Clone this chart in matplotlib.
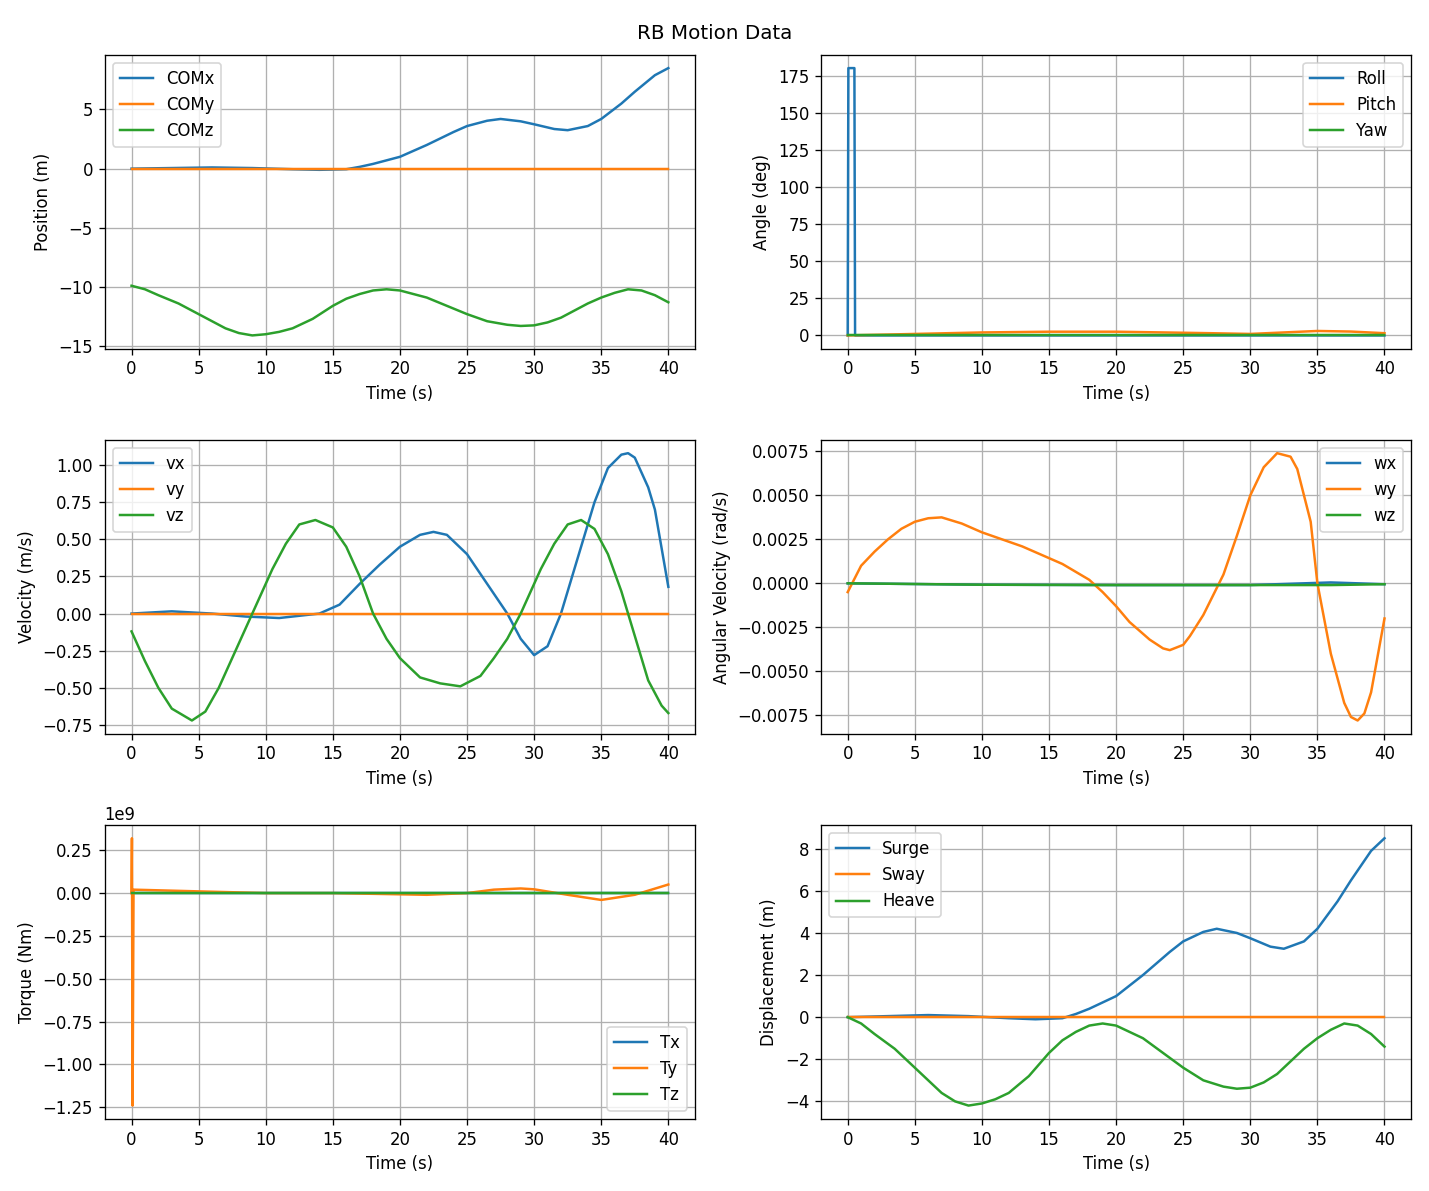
import numpy as np
import matplotlib
matplotlib.use("Agg")
import matplotlib.pyplot as plt

# Position (m)
t_pos = [0, 3, 6, 9, 12, 14, 16, 17, 18, 20, 22, 24, 25, 26.5, 27.5, 29, 30, 31.5, 32.5, 34, 35, 36.5, 37.5, 39, 40]
com_x = [0, 0.05, 0.1, 0.05, -0.05, -0.1, -0.05, 0.15, 0.4, 1.0, 2.0, 3.1, 3.6, 4.05, 4.2, 4.0, 3.75, 3.35, 3.25, 3.6, 4.2, 5.5, 6.5, 7.9, 8.5]
t_z = [0, 1, 2, 3.5, 5, 6, 7, 8, 9, 10, 11, 12, 13.5, 15, 16, 17, 18, 19, 20, 21, 22, 23.5, 25, 26.5, 28, 29, 30, 31, 32, 33, 34, 35, 36, 37, 38, 39, 40]
com_z = [-9.9, -10.2, -10.7, -11.4, -12.3, -12.9, -13.5, -13.9, -14.1, -14.0, -13.8, -13.5, -12.7, -11.6, -11.0, -10.6, -10.3, -10.2, -10.3, -10.6, -10.9, -11.6, -12.3, -12.9, -13.2, -13.3, -13.25, -13.0, -12.6, -12.0, -11.4, -10.9, -10.5, -10.2, -10.3, -10.7, -11.3]
surge = com_x
heave = [z + 9.9 for z in com_z]

# Angles (deg)
t_roll = [0, 0.05, 0.5, 0.55, 40]
roll = [0, 180, 180, 0, 0]
t_pitch = [0, 5, 10, 15, 20, 25, 27, 30, 32.5, 35, 37.5, 40]
pitch = [0, 1.0, 2.0, 2.5, 2.5, 1.8, 1.5, 1.0, 2.0, 3.0, 2.6, 1.5]

# Linear velocity (m/s)
t_vx = [0, 3, 6, 8.5, 11, 13, 14, 15.5, 17, 18.5, 20, 21.5, 22.5, 23.5, 25, 26.5, 28, 29, 30, 31, 32, 33, 34.5, 35.5, 36.5, 37, 37.5, 38.5, 39, 40]
vx = [0, 0.015, 0.0, -0.02, -0.03, -0.01, 0.0, 0.06, 0.2, 0.33, 0.45, 0.53, 0.55, 0.53, 0.4, 0.2, 0.0, -0.17, -0.28, -0.22, 0.0, 0.3, 0.75, 0.98, 1.07, 1.08, 1.05, 0.85, 0.7, 0.18]
t_vz = [0, 1, 2, 3, 4.5, 5.5, 6.5, 7.5, 9, 10, 10.5, 11.5, 12.5, 13.7, 15, 16, 17, 18, 19, 20, 21.5, 23, 24.5, 26, 27, 28, 29, 30.5, 31.5, 32.5, 33.5, 34.5, 35.5, 36.5, 37, 38, 38.5, 39.5, 40]
vz = [-0.12, -0.32, -0.5, -0.64, -0.72, -0.66, -0.5, -0.3, 0.0, 0.2, 0.3, 0.47, 0.6, 0.63, 0.58, 0.45, 0.25, 0.0, -0.17, -0.3, -0.43, -0.47, -0.49, -0.42, -0.3, -0.17, 0.0, 0.3, 0.47, 0.6, 0.63, 0.57, 0.4, 0.15, 0.0, -0.3, -0.45, -0.62, -0.67]

# Angular velocity (rad/s)
t_w = [0, 1, 2, 3, 4, 5, 6, 7, 8.5, 10, 13, 16, 18, 19, 20, 21, 22.5, 23.5, 24, 25, 25.5, 26.5, 28, 29, 30, 31, 32, 33, 33.5, 34.5, 35, 36, 37, 37.5, 38, 38.5, 39, 40]
wy = [-0.0005, 0.001, 0.0018, 0.0025, 0.0031, 0.0035, 0.0037, 0.00375, 0.0034, 0.0029, 0.0021, 0.0011, 0.0002, -0.0005, -0.0013, -0.0022, -0.0032, -0.0037, -0.0038, -0.0035, -0.003, -0.0018, 0.0005, 0.0027, 0.005, 0.0066, 0.0074, 0.0072, 0.0065, 0.0035, 0.0, -0.004, -0.0068, -0.0076, -0.0078, -0.0074, -0.0062, -0.002]
t_wx = [0, 10, 20, 30, 36, 40]
wx = [0, -0.00008, -0.0001, -0.0001, 0.00005, -0.00005]
wz = [0, -0.00008, -0.0001, -0.0001, -0.0001, -0.00005]

# Torque (Nm)
t_tq = [0, 0.03, 0.08, 0.15, 5, 10, 15, 22, 25, 27, 29, 30, 32.5, 35, 37.5, 40]
ty = [0, 0.32e9, -1.24e9, 0.02e9, 0.01e9, 0, 0, -0.01e9, 0.0, 0.02e9, 0.027e9, 0.022e9, -0.01e9, -0.04e9, -0.01e9, 0.05e9]
t_flat = [0, 40]
zero = [0, 0]

fig, axes = plt.subplots(3, 2, figsize=(12, 10), dpi=119.1)
fig.suptitle("RB Motion Data")

ax = axes[0, 0]
ax.plot(t_pos, com_x, label="COMx")
ax.plot(t_flat, zero, label="COMy")
ax.plot(t_z, com_z, label="COMz")
ax.set_ylabel("Position (m)")
ax.legend(loc="upper left")

ax = axes[0, 1]
ax.plot(t_roll, roll, label="Roll")
ax.plot(t_pitch, pitch, label="Pitch")
ax.plot(t_flat, zero, label="Yaw")
ax.set_ylabel("Angle (deg)")
ax.legend(loc="upper right")

ax = axes[1, 0]
ax.plot(t_vx, vx, label="vx")
ax.plot(t_flat, zero, label="vy")
ax.plot(t_vz, vz, label="vz")
ax.set_ylabel("Velocity (m/s)")
ax.legend(loc="upper left")

ax = axes[1, 1]
ax.plot(t_wx, wx, label="wx")
ax.plot(t_w, wy, label="wy")
ax.plot(t_wx, wz, label="wz")
ax.set_ylabel("Angular Velocity (rad/s)")
ax.legend(loc="upper right")

ax = axes[2, 0]
ax.plot(t_flat, zero, label="Tx")
ax.plot(t_tq, ty, label="Ty")
ax.plot(t_flat, zero, label="Tz")
ax.set_ylabel("Torque (Nm)")
ax.legend(loc="lower right")

ax = axes[2, 1]
ax.plot(t_pos, surge, label="Surge")
ax.plot(t_flat, zero, label="Sway")
ax.plot(t_z, heave, label="Heave")
ax.set_ylabel("Displacement (m)")
ax.legend(loc="upper left")

for a in axes.flat:
    a.set_xlabel("Time (s)")
    a.grid(True)

plt.tight_layout()
plt.savefig("out.png")
